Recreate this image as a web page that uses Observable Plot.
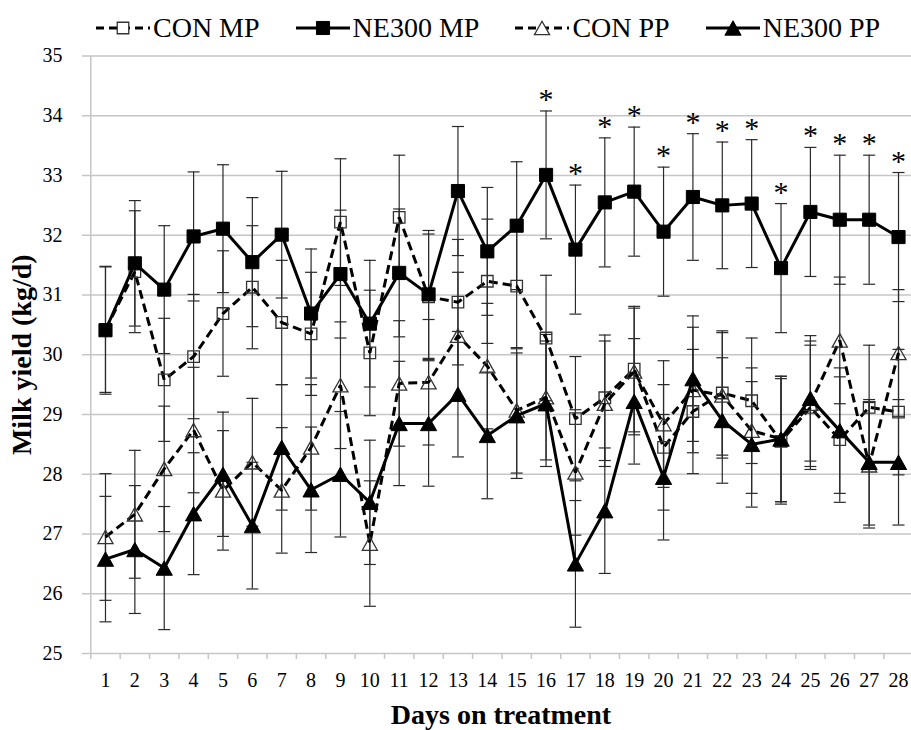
<!DOCTYPE html>
<html>
<head>
<meta charset="utf-8">
<script src="https://cdn.jsdelivr.net/npm/d3@7"></script>
<script src="https://cdn.jsdelivr.net/npm/@observablehq/plot@0.6"></script>
<style>
  html, body { margin: 0; padding: 0; background: #fff; overflow: hidden; }
  body { font-family: "Liberation Serif", "Times New Roman", serif; color: #000; }
  #legend { height: 40px; padding-top: 8px; display: flex; align-items: center; padding-left: 96px; gap: 36px; font-size: 28px; }
  #legend .item { display: flex; align-items: center; gap: 3px; white-space: nowrap; }
  #legend svg { display: block; }
</style>
</head>
<body>
<div id="legend"></div>
<div id="chart"></div>
<script>
// Days on treatment (x categories) and axis ticks
const days = [1, 2, 3, 4, 5, 6, 7, 8, 9, 10, 11, 12, 13, 14, 15, 16, 17, 18, 19, 20, 21, 22, 23, 24, 25, 26, 27, 28];
const dayEdges = [0.5, 1.5, 2.5, 3.5, 4.5, 5.5, 6.5, 7.5, 8.5, 9.5, 10.5, 11.5, 12.5, 13.5, 14.5, 15.5, 16.5, 17.5, 18.5, 19.5, 20.5, 21.5, 22.5, 23.5, 24.5, 25.5, 26.5, 27.5, 28.5];
const yTicks = [25, 26, 27, 28, 29, 30, 31, 32, 33, 34, 35];

// Milk yield means (kg/d) and standard errors per treatment group
const conMP = [30.42, 31.39, 29.58, 29.97, 30.69, 31.13, 30.54, 30.35, 32.22, 30.03, 32.30, 30.97, 30.88, 31.23, 31.15, 30.28, 28.93, 29.28, 29.76, 28.45, 29.05, 29.36, 29.23, 28.55, 29.12, 28.58, 29.12, 29.04];
const conMPse = [1.05, 1.02, 1.03, 1.04, 1.05, 1.03, 1.04, 1.03, 1.06, 1.05, 1.04, 1.05, 1.05, 1.04, 1.05, 1.05, 1.04, 1.05, 1.05, 1.05, 1.04, 1.04, 1.05, 1.05, 1.04, 1.05, 1.04, 1.05];

const neMP = [30.41, 31.53, 31.09, 31.98, 32.11, 31.55, 32.01, 30.69, 31.35, 30.52, 31.37, 31.01, 32.74, 31.73, 32.16, 33.01, 31.76, 32.55, 32.73, 32.06, 32.64, 32.50, 32.53, 31.45, 32.39, 32.26, 32.26, 31.97];
const neMPse = [1.07, 1.05, 1.07, 1.08, 1.07, 1.08, 1.06, 1.08, 1.07, 1.06, 1.07, 1.07, 1.08, 1.07, 1.07, 1.07, 1.08, 1.08, 1.08, 1.08, 1.06, 1.06, 1.07, 1.08, 1.08, 1.08, 1.08, 1.08];

const conPP = [26.95, 27.33, 28.09, 28.74, 27.73, 28.20, 27.73, 28.45, 29.49, 26.84, 29.52, 29.54, 30.32, 29.81, 29.07, 29.29, 28.03, 29.18, 29.72, 28.84, 29.41, 29.32, 28.73, 28.59, 29.18, 30.24, 28.15, 30.03];
const conPPse = [1.06, 1.07, 1.05, 1.05, 1.00, 1.07, 1.05, 1.05, 1.06, 1.05, 1.05, 1.05, 1.06, 1.05, 1.05, 1.05, 1.05, 1.05, 1.06, 1.06, 1.05, 1.05, 1.05, 1.05, 1.05, 1.06, 1.05, 1.06];

const nePP = [26.58, 26.74, 26.43, 27.34, 28.00, 27.14, 28.45, 27.74, 28.00, 27.53, 28.85, 28.85, 29.34, 28.65, 28.98, 29.18, 26.50, 27.39, 29.22, 27.95, 29.60, 28.90, 28.50, 28.59, 29.27, 28.73, 28.20, 28.20];
const nePPse = [1.05, 1.07, 1.03, 1.02, 1.04, 1.06, 1.05, 1.05, 1.05, 1.04, 1.04, 1.05, 1.05, 1.06, 1.05, 1.05, 1.06, 1.05, 1.05, 1.05, 1.05, 1.05, 1.05, 1.05, 1.05, 1.05, 1.05, 1.05];

// Days where NE300 MP differs from CON MP (marked with *)
const sigDays = [16, 17, 18, 19, 20, 21, 22, 23, 24, 25, 26, 27, 28];

// Marker shapes: horizontal cap for error bars, triangle centred on its box
const capSymbol = {
  draw(ctx, size) {
    const w = Math.sqrt(size / Math.PI);
    ctx.moveTo(-w, 0);
    ctx.lineTo(w, 0);
  }
};
const triSymbol = {
  draw(ctx, size) {
    const r = Math.sqrt(size / Math.PI);
    const hw = r * 1.35, hh = r * 1.2;
    ctx.moveTo(0, -hh);
    ctx.lineTo(hw, hh);
    ctx.lineTo(-hw, hh);
    ctx.closePath();
  }
};

const series = [
  {name: "CON MP", mean: conMP, se: conMPse, dash: "9,5", symbol: "square", filled: false},
  {name: "NE300 MP", mean: neMP, se: neMPse, dash: null, symbol: "square", filled: true},
  {name: "CON PP", mean: conPP, se: conPPse, dash: "9,5", symbol: triSymbol, filled: false},
  {name: "NE300 PP", mean: nePP, se: nePPse, dash: null, symbol: triSymbol, filled: true}
];

const rows = series.flatMap(s => days.map((d, i) => ({
  series: s.name,
  day: d,
  mean: s.mean[i],
  lo: s.mean[i] - s.se[i],
  hi: s.mean[i] + s.se[i]
})));

const sigRows = sigDays.map(d => rows.find(r => r.series === "NE300 MP" && r.day === d));

const lineWidth = 3;
const barColor = "#2a2a2a";
const gridColor = "#c6c6c6";

function markerR(s) {
  if (s.symbol === "square") return s.filled ? 7.4 : 6.5;
  return s.filled ? 6.0 : 5.6;
}

const seriesMarks = series.flatMap(s => {
  const data = rows.filter(r => r.series === s.name);
  return [
    Plot.line(data, {
      x: "day", y: "mean",
      stroke: "#000", strokeWidth: lineWidth,
      strokeDasharray: s.dash ?? undefined,
      strokeLinejoin: "miter", strokeLinecap: "butt"
    }),
    Plot.dot(data, {
      x: "day", y: "mean",
      symbol: s.symbol, r: markerR(s),
      fill: s.filled ? "#000" : "none",
      stroke: s.filled ? "#000" : "#333",
      strokeWidth: s.filled ? 1 : 1.3
    })
  ];
});

const chart = Plot.plot({
  width: 911,
  height: 682,
  marginTop: 7.5,
  marginBottom: 77,
  marginLeft: 90,
  marginRight: 0,
  style: {fontFamily: '"Liberation Serif", "Times New Roman", serif', fontSize: "20px", background: "#fff", color: "#000", overflow: "visible"},
  x: {domain: [0.5, 28.5], range: [90.3, 912.7]},
  y: {domain: [25, 35]},
  marks: [
    Plot.gridY(yTicks, {stroke: gridColor, strokeOpacity: 1, strokeWidth: 1.5}),
    Plot.ruleX([0.5], {stroke: gridColor, strokeWidth: 1.5}),
    Plot.axisY(yTicks, {tickSize: 8, tickPadding: 20, tickFormat: d => String(d), stroke: gridColor, strokeWidth: 1.5, fill: "#000", fontSize: 20, fontFamily: '"Liberation Serif", serif', label: null}),
    Plot.axisX(dayEdges, {tickSize: 6, tickFormat: () => "", stroke: gridColor, strokeWidth: 1.5, label: null}),
    Plot.axisX(days, {tickSize: 0, tickPadding: 19, tickFormat: d => String(d), fill: "#000", fontSize: 20, fontFamily: '"Liberation Serif", serif', label: null}),
    Plot.text(["Milk yield (kg/d)"], {frameAnchor: "left", textAnchor: "middle", lineAnchor: "middle", rotate: -90, dx: -68, fontSize: 28, fontWeight: "bold", fill: "#000"}),
    Plot.text(["Days on treatment"], {frameAnchor: "bottom", dy: 70, fontSize: 28, fontWeight: "bold", fill: "#000"}),
    // error bars
    Plot.ruleX(rows, {x: "day", y1: "lo", y2: "hi", stroke: barColor, strokeWidth: 1.2}),
    Plot.dot(rows, {x: "day", y: "hi", symbol: capSymbol, r: 6, stroke: barColor, strokeWidth: 1.2, fill: "none"}),
    Plot.dot(rows, {x: "day", y: "lo", symbol: capSymbol, r: 6, stroke: barColor, strokeWidth: 1.2, fill: "none"}),
    ...seriesMarks,
    Plot.text(sigRows, {x: "day", y: "hi", text: () => "*", lineAnchor: "bottom", dy: -2, fontSize: 30, fill: "#000"})
  ]
});
document.getElementById("chart").appendChild(chart);

// Legend: line sample with marker, followed by the group name
const legend = d3.select("#legend");
for (const s of series) {
  const item = legend.append("div").attr("class", "item");
  const svg = item.append("svg").attr("width", 54).attr("height", 22);
  svg.append("line")
    .attr("x1", 0).attr("x2", 54).attr("y1", 11).attr("y2", 11)
    .attr("stroke", "#000").attr("stroke-width", lineWidth)
    .attr("stroke-dasharray", s.dash ? "8,5" : null);
  const sym = s.symbol === "square" ? d3.symbolSquare : s.symbol;
  const r = markerR(s);
  svg.append("path")
    .attr("transform", "translate(27,11)")
    .attr("d", d3.symbol(sym, Math.PI * r * r)())
    .attr("fill", s.filled ? "#000" : "#fff")
    .attr("stroke", s.filled ? "#000" : "#333")
    .attr("stroke-width", s.filled ? 1 : 1.3);
  item.append("span").text(s.name);
}
</script>
</body>
</html>
